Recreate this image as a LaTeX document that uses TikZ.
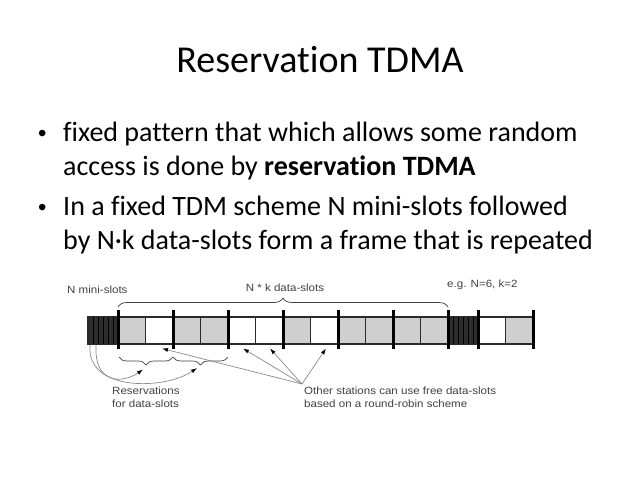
\documentclass[tikz,border=0pt]{standalone}
\usepackage{fontspec}
\setmainfont{Carlito}[Ligatures=NoCommon]
\newfontfamily\diagfont[FakeStretch=1.1]{Liberation Sans}
\newfontfamily\bulletfont{Liberation Sans}
\usetikzlibrary{decorations.pathreplacing,arrows.meta}
\definecolor{slotgray}{HTML}{CFCFCF}
\definecolor{lblgray}{HTML}{404040}
\definecolor{linegray}{HTML}{8A8A8A}
\definecolor{minidark}{HTML}{2E2E2E}
\definecolor{edgedark}{HTML}{2A2A2A}
\begin{document}
\begin{tikzpicture}[x=1pt,y=-1pt,
  slotbox/.style={draw=edgedark,line width=1.1pt,minimum width=27.5pt,minimum height=27pt,inner sep=0pt,anchor=west,outer sep=0pt},
  graybox/.style={slotbox,fill=slotgray},
  whitebox/.style={slotbox,fill=white},
  minibox/.style={draw=edgedark,line width=1.1pt,fill=minidark,minimum width=30pt,minimum height=27pt,inner sep=0pt,anchor=west,outer sep=0pt},
  thickbar/.style={line width=3pt,black},
  lbl/.style={font=\diagfont\fontsize{10.5}{13}\selectfont,text=lblgray,inner sep=0pt},
  brc/.style={decorate,draw=lblgray,line width=0.7pt},
  conn/.style={draw=linegray,line width=0.7pt,-{Latex[length=6pt,width=4pt,black]}},
  slidetext/.style={font=\fontsize{28}{34}\selectfont,inner sep=0pt,anchor=base west},
  bulletmark/.style={font=\bulletfont\fontsize{24}{30}\selectfont,inner sep=0pt,anchor=base west}
]
\useasboundingbox (0,0) rectangle (638,479);
\fill[white] (0,0) rectangle (638,479);

% title
\node[font=\fontsize{38}{46}\selectfont,inner sep=0pt,anchor=base] (title) at (320,72) {Reservation TDMA};

% bullets
\node[bulletmark] (b1) at (38,141) {•};
\node[slidetext] (l1) at (63,141) {fixed pattern that which allows some random};
\node[slidetext] (l2) at (63,175) {access is done by \textbf{reservation TDMA}};
\node[bulletmark] (b2) at (38,215) {•};
\node[slidetext] (l3) at (63,215) {In a fixed TDM scheme N mini-slots followed};
\node[slidetext] (l4) at (63,249) {by N·k data-slots form a frame that is repeated};

% slots
\node[minibox] (m1) at (88,330.5) {};
\node[graybox]  (s1)  at (118,330.5) {};
\node[whitebox] (s2)  at (145.5,330.5) {};
\node[graybox]  (s3)  at (173,330.5) {};
\node[graybox]  (s4)  at (200.5,330.5) {};
\node[whitebox] (s5)  at (228,330.5) {};
\node[whitebox] (s6)  at (255.5,330.5) {};
\node[graybox]  (s7)  at (283,330.5) {};
\node[whitebox] (s8)  at (310.5,330.5) {};
\node[graybox]  (s9)  at (338,330.5) {};
\node[graybox]  (s10) at (365.5,330.5) {};
\node[graybox]  (s11) at (393,330.5) {};
\node[graybox]  (s12) at (420.5,330.5) {};
\node[minibox] (m2) at (448,330.5) {};
\node[whitebox] (s13) at (478,330.5) {};
\node[graybox]  (s14) at (505.5,330.5) {};

% mini-slot stripes
\foreach \i in {1,...,5}{
  \draw[black,line width=0.8pt] ([xshift=5*\i pt]m1.north west) -- ([xshift=5*\i pt]m1.south west);
  \draw[black,line width=0.8pt] ([xshift=5*\i pt]m2.north west) -- ([xshift=5*\i pt]m2.south west);
}

% thick frame bars
\foreach \n in {s1,s3,s5,s7,s9,s11,m2,s13}{
  \draw[thickbar] ([yshift=7pt]\n.north west) -- ([yshift=-5pt]\n.south west);
}
\draw[thickbar] ([yshift=7pt]s14.north east) -- ([yshift=-5pt]s14.south east);

% top brace
\draw[brc,decoration={brace,amplitude=9pt}] (118,307) -- (448,307);
\node[lbl,anchor=base west] (nmini) at (67,293) {N mini-slots};
\node[lbl,anchor=base] (nk) at (285,291) {N * k data-slots};
\node[lbl,anchor=base west] (eg) at (447,287) {e.g. N=6, k=2};

% lower braces
\coordinate (br1a) at (119,357);
\coordinate (br1b) at (173,357);
\coordinate (br2b) at (228,357);
\draw[brc,decoration={brace,mirror,amplitude=8pt}] (br1a) -- (br1b);
\draw[brc,decoration={brace,mirror,amplitude=8pt}] (br1b) -- (br2b);

% reservation arrows
\coordinate (ra) at (90,345);
\coordinate (rb) at (96,345);
\coordinate (ta) at (197,368);
\coordinate (tb) at (143,369.5);
\draw[conn] (ra) .. controls (86,392) and (165,390) .. (ta);
\draw[conn] (rb) .. controls (94,384) and (122,384) .. (tb);

\node[lbl,anchor=base west] (res1) at (112,394) {Reservations};
\node[lbl,anchor=base west] (res2) at (112,407) {for data-slots};

% other stations arrows
\coordinate (conv) at (302,384);
\coordinate (t2) at (162,348.5);
\coordinate (t5) at (243,348.5);
\coordinate (t6) at (270,348.5);
\coordinate (t8) at (326,348.5);
\draw[conn] (conv) -- (t2);
\draw[conn] (conv) -- (t5);
\draw[conn] (conv) -- (t6);
\draw[conn] (conv) -- (t8);

\node[lbl,anchor=base west] (oth1) at (304,394) {Other stations can use free data-slots};
\node[lbl,anchor=base west] (oth2) at (304,407) {based on a round-robin scheme};
\end{tikzpicture}
\end{document}
